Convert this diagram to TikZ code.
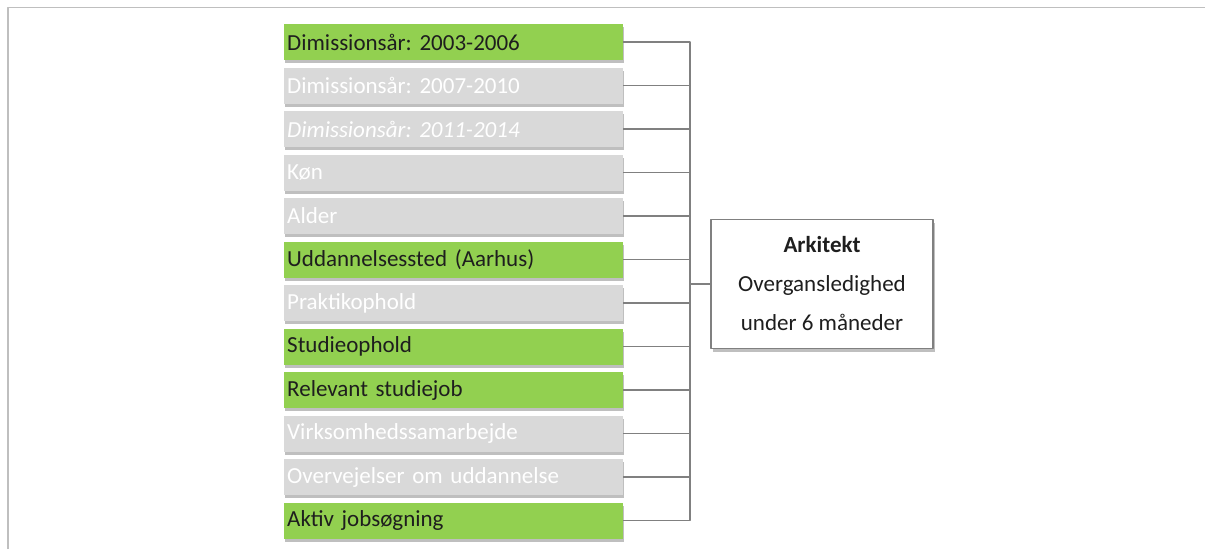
\documentclass[tikz,border=0pt]{standalone}
\usepackage{fontspec}
\setmainfont{Carlito}
\usetikzlibrary{shadows}
\frenchspacing

\begin{document}
\begin{tikzpicture}[
        x=1pt, y=-1pt, % work in pixels, y downwards
        line join=round,
        factor/.style={rectangle, anchor=west, inner xsep=3pt, inner ysep=0pt,
            text width=333pt, minimum height=36pt, align=left,
            font=\fontsize{23}{27}\selectfont,
            drop shadow={shadow xshift=1pt, shadow yshift=-3pt, opacity=0.5}},
        hit/.style={factor, fill=mygreen, text=mydark},
        miss/.style={factor, fill=mygray, text=white},
        link/.style={draw=mylink, line width=1.4pt},
        goalbox/.style={rectangle, draw=mylink, line width=1.2pt, fill=white,
            minimum width=222pt, minimum height=129pt, align=center,
            font=\fontsize{23}{39}\selectfont, text=mydark,
            drop shadow={shadow xshift=1.5pt, shadow yshift=-3pt, opacity=0.5}}
        ]

        % 1. Colors to match the image
        \definecolor{mygreen}{HTML}{92D050}
        \definecolor{mygray}{HTML}{D9D9D9}
        \definecolor{mydark}{HTML}{1E1E1E}
        \definecolor{mylink}{HTML}{808080}
        \definecolor{myframe}{HTML}{BFBFBF}

        % 2. Canvas and the frame lines
        \useasboundingbox (0,0) rectangle (1205,549);
        \draw[myframe, line width=1.5pt] (8,549) -- (8,7.5) -- (1205,7.5);

        % 3. The factor boxes (top to bottom)
        \node[hit]  (f1)  at (284,42)    {Dimissionsår: 2003-2006};
        \node[miss] (f2)  at (284,85.5)  {Dimissionsår: 2007-2010};
        \node[miss] (f3)  at (284,129)   {\itshape Dimissionsår: 2011-2014};
        \node[miss] (f4)  at (284,172.5) {Køn};
        \node[miss] (f5)  at (284,216)   {Alder};
        \node[hit]  (f6)  at (284,259.5) {Uddannelsessted (Aarhus)};
        \node[miss] (f7)  at (284,303)   {Praktikophold};
        \node[hit]  (f8)  at (284,346.5) {Studieophold};
        \node[hit]  (f9)  at (284,390)   {Relevant studiejob};
        \node[miss] (f10) at (284,433.5) {Virksomhedssamarbejde};
        \node[miss] (f11) at (284,477)   {Overvejelser om uddannelse};
        \node[hit]  (f12) at (284,520.5) {Aktiv jobsøgning};

        % 4. The outcome box
        \node[goalbox] (goal) at (822,284)
            {\textbf{Arkitekt}\\Overgansledighed\\under 6 måneder};

        % 5. Connectors into the bus and on to the outcome
        \coordinate (hub) at (690,284);
        \draw[link] (f1.east)  -| (hub);
        \draw[link] (f2.east)  -| (hub);
        \draw[link] (f3.east)  -| (hub);
        \draw[link] (f4.east)  -| (hub);
        \draw[link] (f5.east)  -| (hub);
        \draw[link] (f6.east)  -| (hub);
        \draw[link] (f7.east)  -| (hub);
        \draw[link] (f8.east)  -| (hub);
        \draw[link] (f9.east)  -| (hub);
        \draw[link] (f10.east) -| (hub);
        \draw[link] (f11.east) -| (hub);
        \draw[link] (f12.east) -| (hub);
        \draw[link] (hub) -- (goal.west);
    \end{tikzpicture}
\end{document}
